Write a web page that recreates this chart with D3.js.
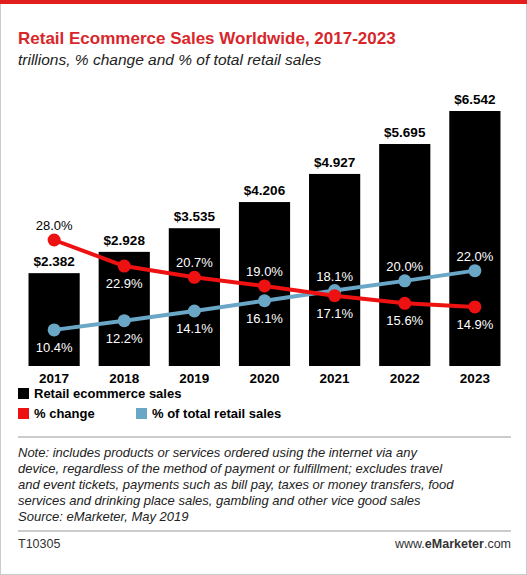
<!DOCTYPE html><html><head><meta charset="utf-8">
<script src="https://cdn.jsdelivr.net/npm/d3@7"></script>
<style>body{margin:0;background:#fff}text{font-family:"Liberation Sans",Arial,sans-serif}</style></head><body>
<svg id="c" width="527" height="575"></svg>
<script>
const years=["2017","2018","2019","2020","2021","2022","2023"];
const sales=[2.382,2.928,3.535,4.206,4.927,5.695,6.542];
const pctChange=[28.0,22.9,20.7,19.0,17.1,15.6,14.9];
const pctTotal=[10.4,12.2,14.1,16.1,18.1,20.0,22.0];
const redAbove=[1,0,1,1,0,0,0];
const blueAbove=[0,0,0,0,1,1,1];
const svg=d3.select("#c");
svg.append("rect").attr("x",0.5).attr("y",0.5).attr("width",526).attr("height",574).attr("fill","none").attr("stroke","#ccc");
svg.append("rect").attr("x",0).attr("y",0).attr("width",527).attr("height",4).attr("fill","#e21d1d");
svg.append("text").attr("x",18).attr("y",44).attr("fill","#d8262b").attr("font-size",17).attr("font-weight","bold").text("Retail Ecommerce Sales Worldwide, 2017-2023");
svg.append("text").attr("x",18).attr("y",65).attr("fill","#222").attr("font-size",15.5).attr("font-style","italic").text("trillions, % change and % of total retail sales");
const x=d3.scaleBand().domain(years).range([18,511]).paddingInner(0.27).paddingOuter(0.15);
const y=d3.scaleLinear().domain([0,6.542]).range([366,111]);
const yp=d3.scaleLinear().domain([0,28]).range([383,240]);
const g=svg.append("g");
g.selectAll("rect.b").data(sales).join("rect").attr("x",(d,i)=>x(years[i])).attr("y",d=>y(d)).attr("width",x.bandwidth()).attr("height",d=>y(0)-y(d)).attr("fill","#000");
g.selectAll("text.v").data(sales).join("text").attr("x",(d,i)=>x(years[i])+x.bandwidth()/2).attr("y",d=>y(d)-7).attr("text-anchor","middle").attr("font-size",13.5).attr("font-weight","bold").text(d=>"$"+d.toFixed(3));
g.selectAll("text.yr").data(years).join("text").attr("x",d=>x(d)+x.bandwidth()/2).attr("y",383).attr("text-anchor","middle").attr("font-size",13.5).attr("font-weight","bold").text(d=>d);
const cx=i=>x(years[i])+x.bandwidth()/2;
function series(vals,color,above){
 g.append("path").datum(vals).attr("fill","none").attr("stroke",color).attr("stroke-width",4).attr("d",d3.line().x((d,i)=>cx(i)).y(d=>yp(d)));
 g.selectAll(null).data(vals).join("circle").attr("cx",(d,i)=>cx(i)).attr("cy",d=>yp(d)).attr("r",6.5).attr("fill",color);
 g.selectAll(null).data(vals).join("text").attr("x",(d,i)=>cx(i)).attr("y",(d,i)=>above[i]?yp(d)-10:yp(d)+22)
  .attr("text-anchor","middle").attr("font-size",13)
  .attr("fill",(d,i)=>{const ty=above[i]?yp(d)-20:yp(d)+12;return ty>y(sales[i])?"#fff":"#000";})
  .text(d=>d.toFixed(1)+"%");
}
series(pctTotal,"#6aa6c6",blueAbove);
series(pctChange,"#ee1111",redAbove);
const L=[["#000","Retail ecommerce sales",18,398],["#ee1111","% change",18,418],["#6aa6c6","% of total retail sales",136,418]];
L.forEach(l=>{svg.append("rect").attr("x",l[2]).attr("y",l[3]-10).attr("width",11).attr("height",11).attr("fill",l[0]);
 svg.append("text").attr("x",l[2]+16).attr("y",l[3]).attr("font-size",13).attr("font-weight","bold").text(l[1]);});
svg.append("line").attr("x1",18).attr("x2",511).attr("y1",437).attr("y2",437).attr("stroke","#999");
const notes=["Note: includes products or services ordered using the internet via any","device, regardless of the method of payment or fulfillment; excludes travel","and event tickets, payments such as bill pay, taxes or money transfers, food","services and drinking place sales, gambling and other vice good sales","Source: eMarketer, May 2019"];
notes.forEach((t,i)=>svg.append("text").attr("x",18).attr("y",457+i*16).attr("font-size",13).attr("font-style","italic").attr("fill","#222").text(t));
svg.append("line").attr("x1",18).attr("x2",511).attr("y1",531).attr("y2",531).attr("stroke","#999");
svg.append("text").attr("x",18).attr("y",548).attr("font-size",12.5).attr("fill","#333").text("T10305");
const w=svg.append("text").attr("x",511).attr("y",548).attr("text-anchor","end").attr("font-size",12.5).attr("fill","#333");
w.append("tspan").text("www.");w.append("tspan").attr("font-weight","bold").text("eMarketer");w.append("tspan").text(".com");
</script></body></html>
